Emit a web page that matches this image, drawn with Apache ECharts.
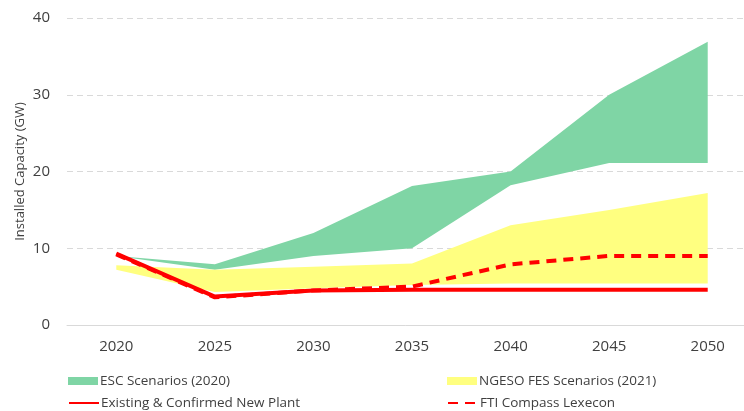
<!DOCTYPE html>
<html>
<head>
<meta charset="utf-8">
<script src="https://cdn.jsdelivr.net/npm/echarts@6/dist/echarts.min.js"></script>
<style>
html,body{margin:0;padding:0;background:#fff;}
#chart{width:744px;height:411px;}
</style>
</head>
<body>
<div id="chart"></div>
<script>
const years = ['2020','2025','2030','2035','2040','2045','2050'];
const escLow  = [9.0, 7.2, 9.0, 10.0, 18.2, 21.1, 21.1];
const escHigh = [9.0, 7.9, 12.0, 18.1, 20.0, 30.0, 36.9];
const fesLow  = [7.2, 4.3, 4.8, 5.2, 5.4, 5.4, 5.4];
const fesHigh = [7.8, 7.2, 7.6, 8.0, 13.0, 15.0, 17.2];
const existing = [9.3, 3.7, 4.5, 4.6, 4.6, 4.6, 4.6];
const fti = [9.2, 3.6, 4.5, 5.0, 7.9, 9.0, 9.0];
const yTicks = [0, 10, 20, 30, 40];

const GREEN = '#7fd5a5';
const YELLOW = '#ffff80';
const RED = '#ff0000';
const FONT = 'Open Sans';
const TXT = '#404040';

const escDelta = escHigh.map((v, i) => +(v - escLow[i]).toFixed(2));
const fesDelta = fesHigh.map((v, i) => +(v - fesLow[i]).toFixed(2));

const chart = echarts.init(document.getElementById('chart'), null, {renderer: 'canvas'});

function legendAt(name, left, top, icon) {
  const lg = {
    data: [icon ? {name: name, icon: icon} : {name: name}],
    left: left, top: top,
    itemWidth: 30, itemHeight: 8,
    padding: 0,
    itemGap: 2,
    textStyle: {fontFamily: FONT, fontSize: 13.5, color: TXT, padding: [0, 0, 0, -3]},
    selectedMode: false
  };
  if (!icon) lg.itemStyle = {opacity: 0};
  return lg;
}

const option = {
  animation: false,
  backgroundColor: '#ffffff',
  grid: {left: 67, top: 18, width: 690, bottom: 86, containLabel: false, outerBoundsMode: 'none'},
  legend: [
    legendAt('ESC Scenarios (2020)', 68, 374, 'rect'),
    legendAt('NGESO FES Scenarios (2021)', 447, 374, 'rect'),
    legendAt('Existing & Confirmed New Plant', 68, 396),
    legendAt('FTI Compass Lexecon', 447, 396)
  ],
  xAxis: {
    type: 'category',
    data: years,
    boundaryGap: true,
    axisLine: {show: true, lineStyle: {color: '#d9d9d9', width: 1}},
    axisTick: {show: false},
    axisLabel: {fontFamily: FONT, fontSize: 15, color: TXT, margin: 14}
  },
  yAxis: {
    type: 'value',
    min: yTicks[0], max: yTicks[yTicks.length - 1], interval: 10,
    name: 'Installed Capacity (GW)',
    nameLocation: 'middle',
    nameGap: 40,
    nameMoveOverlap: false,
    nameTextStyle: {fontFamily: FONT, fontSize: 13, color: TXT},
    axisLine: {show: false},
    axisTick: {show: false},
    axisLabel: {fontFamily: FONT, fontSize: 15, color: TXT, margin: 17},
    splitLine: {show: true, lineStyle: {color: '#d9d9d9', type: [6, 4], width: 1}}
  },
  series: [
    {
      name: 'escBase', type: 'line', stack: 'esc', data: escLow,
      symbol: 'none', lineStyle: {opacity: 0}, silent: true
    },
    {
      name: 'ESC Scenarios (2020)', type: 'line', stack: 'esc', data: escDelta,
      symbol: 'none', lineStyle: {opacity: 0, color: GREEN}, itemStyle: {color: GREEN},
      areaStyle: {color: GREEN, opacity: 1}
    },
    {
      name: 'fesBase', type: 'line', stack: 'fes', data: fesLow,
      symbol: 'none', lineStyle: {opacity: 0}, silent: true
    },
    {
      name: 'NGESO FES Scenarios (2021)', type: 'line', stack: 'fes', data: fesDelta,
      symbol: 'none', lineStyle: {opacity: 0, color: YELLOW}, itemStyle: {color: YELLOW},
      areaStyle: {color: YELLOW, opacity: 1}
    },
    {
      name: 'FTI Compass Lexecon', type: 'line', data: fti,
      symbol: 'none', itemStyle: {color: RED},
      lineStyle: {color: RED, width: 4, type: [10, 7]}
    },
    {
      name: 'Existing & Confirmed New Plant', type: 'line', data: existing,
      symbol: 'none', itemStyle: {color: RED},
      lineStyle: {color: RED, width: 4}
    }
  ]
};
chart.setOption(option);
</script>
</body>
</html>
